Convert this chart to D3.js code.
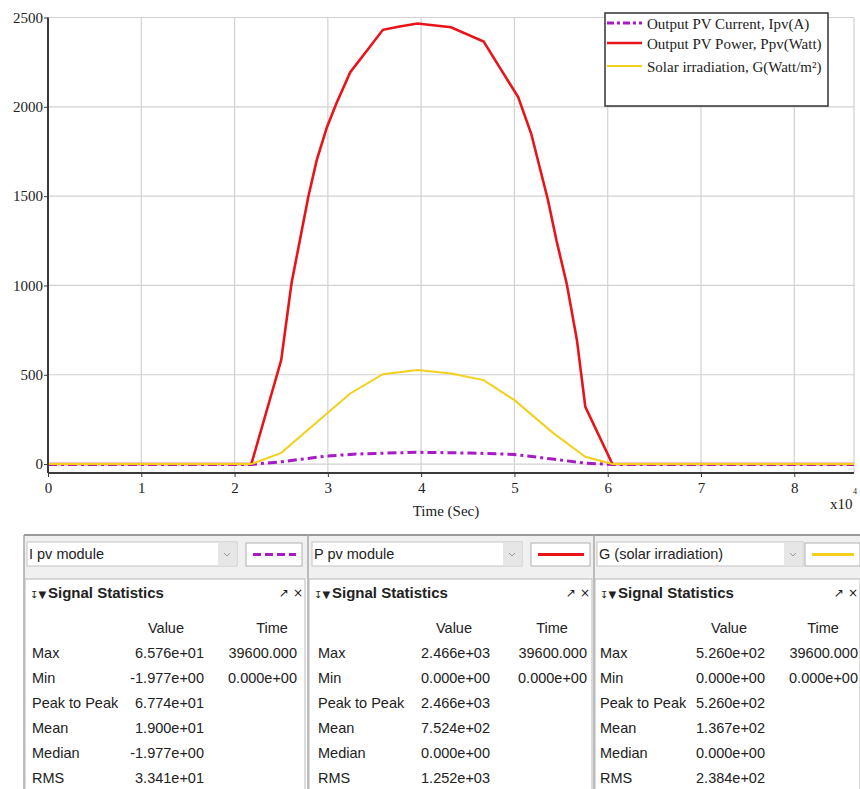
<!DOCTYPE html>
<html>
<head>
<meta charset="utf-8">
<script src="https://cdn.jsdelivr.net/npm/d3@7"></script>
<style>
  body { margin: 0; background: #fff; }
  svg { display: block; }
</style>
</head>
<body>
<svg id="chart" width="860" height="789"></svg>
<script>
// time axis (seconds) and series
const timeP = [0, 21800, 25000, 26100, 27000, 27900, 28800, 29900, 30900, 32400, 34200, 35900, 37700, 39600, 43200, 46700, 48400, 50400, 51800, 53600, 54500, 55600, 56700, 57600, 60500, 86400];
const powerP = [0, 0, 582, 1011, 1253, 1495, 1700, 1886, 2017, 2194, 2315, 2431, 2450, 2466, 2445, 2365, 2222, 2054, 1849, 1477, 1253, 1011, 694, 320, 0, 0];

const timeG = [0, 21800, 25000, 32400, 35900, 39600, 43200, 46700, 50000, 54200, 57600, 60500, 86400];
const irrG = [0, 0, 63, 395, 503, 526, 507, 470, 358, 172, 41, 0, 0];

const timeI = [0, 21800, 25000, 29900, 33000, 35900, 39600, 45200, 50000, 54100, 57600, 60500, 86400];
const currI = [-1.977, -1.977, 13, 45, 56, 61, 65.76, 62, 54, 28, 5, -1.977, -1.977];

const yTicks = [0, 500, 1000, 1500, 2000, 2500];
const xTicks = [0, 10000, 20000, 30000, 40000, 50000, 60000, 70000, 80000];

const legendLabels = ["Output PV Current, Ipv(A)", "Output PV Power, Ppv(Watt)", "Solar irradiation, G(Watt/m²)"];
const colors = { I: "#a61bc6", P: "#e8141a", G: "#f4d01c" };

// stats tables
const panelNames = ["I pv module", "P pv module", "G (solar irradiation)"];
const statRows = ["Max", "Min", "Peak to Peak", "Mean", "Median", "RMS"];
const statValues = [
  ["6.576e+01", "-1.977e+00", "6.774e+01", "1.900e+01", "-1.977e+00", "3.341e+01"],
  ["2.466e+03", "0.000e+00", "2.466e+03", "7.524e+02", "0.000e+00", "1.252e+03"],
  ["5.260e+02", "0.000e+00", "5.260e+02", "1.367e+02", "0.000e+00", "2.384e+02"]
];
const statTimes = ["39600.000", "0.000e+00"];

const svg = d3.select("#chart");
const serif = "'Liberation Serif', 'Times New Roman', serif";
const sans = "'Liberation Sans', Arial, sans-serif";

const x = d3.scaleLinear().domain([0, 86400]).range([48, 854]);
const y = d3.scaleLinear().domain([-50, 2500]).range([473, 17.5]);

// grid
const grid = svg.append("g");
grid.selectAll(".gx").data(xTicks.slice(1)).enter().append("line")
  .attr("x1", d => x(d)).attr("x2", d => x(d))
  .attr("y1", y(2500)).attr("y2", y(-50))
  .attr("stroke", "#d2d2d2").attr("stroke-width", 1.2);
grid.selectAll(".gy").data(yTicks).enter().append("line")
  .attr("x1", x(0)).attr("x2", x(86400))
  .attr("y1", d => y(d)).attr("y2", d => y(d))
  .attr("stroke", "#d2d2d2").attr("stroke-width", 1.2);
grid.append("line")
  .attr("x1", x(86400)).attr("x2", x(86400))
  .attr("y1", y(2500)).attr("y2", y(-50))
  .attr("stroke", "#c8c8c8");

// lines
function series(ts, vs) {
  return ts.map((t, i) => [t, vs[i]]);
}
const line = d3.line().x(d => x(d[0])).y(d => y(d[1]));

svg.append("path").datum(series(timeI, currI))
  .attr("d", line).attr("fill", "none")
  .attr("stroke", colors.I).attr("stroke-width", 3)
  .attr("stroke-dasharray", "9,4,3,4");
svg.append("path").datum(series(timeP, powerP))
  .attr("d", line).attr("fill", "none")
  .attr("stroke", colors.P).attr("stroke-width", 2.6);
svg.append("path").datum(series(timeG, irrG))
  .attr("d", line).attr("fill", "none")
  .attr("stroke", colors.G).attr("stroke-width", 2);

// axes
const yAxis = svg.append("g").attr("transform", "translate(" + x(0) + ",0)")
  .call(d3.axisLeft(y).tickValues(yTicks).tickSize(4).tickFormat(d3.format("d")));
const xAxis = svg.append("g").attr("transform", "translate(0," + y(-50) + ")")
  .call(d3.axisBottom(x).tickValues(xTicks).tickSize(4).tickFormat(d => d / 10000));
[yAxis, xAxis].forEach(a => {
  a.select(".domain").attr("stroke", "#3a3a3a").attr("stroke-width", 2);
  a.selectAll(".tick line").attr("stroke", "#3a3a3a");
  a.selectAll("text").attr("font-family", serif).attr("font-size", 15).attr("fill", "#222");
});
yAxis.select(".domain").attr("d", "M0," + y(2500) + "V" + y(-50));
xAxis.select(".domain").attr("d", "M" + x(0) + ",0H" + x(86400));
yAxis.selectAll("text").attr("x", -5);
xAxis.selectAll("text").attr("y", 9);

svg.append("text").attr("x", 446).attr("y", 516)
  .attr("text-anchor", "middle").attr("font-family", serif).attr("font-size", 15)
  .attr("fill", "#222").text("Time (Sec)");
svg.append("text").attr("x", 830).attr("y", 509)
  .attr("font-family", serif).attr("font-size", 15).attr("fill", "#222").text("x10");
svg.append("text").attr("x", 853).attr("y", 494)
  .attr("font-family", serif).attr("font-size", 8).attr("fill", "#222").text("4");

// legend
const lg = svg.append("g");
lg.append("rect").attr("x", 605).attr("y", 13).attr("width", 223).attr("height", 93)
  .attr("fill", "#fff").attr("stroke", "#333").attr("stroke-width", 1.5);
const legendY = [23, 43, 66];
const legendStyle = [
  { c: colors.I, w: 3, dash: "7,3,3,3" },
  { c: colors.P, w: 2.6, dash: null },
  { c: colors.G, w: 2, dash: null }
];
legendLabels.forEach((lab, i) => {
  lg.append("line").attr("x1", 607).attr("x2", 642)
    .attr("y1", legendY[i]).attr("y2", legendY[i])
    .attr("stroke", legendStyle[i].c).attr("stroke-width", legendStyle[i].w)
    .attr("stroke-dasharray", legendStyle[i].dash);
  lg.append("text").attr("x", 647).attr("y", legendY[i] + 6)
    .attr("font-family", serif).attr("font-size", 15).attr("fill", "#222").text(lab);
});

// bottom stats panels
const panels = svg.append("g").attr("font-family", sans).attr("fill", "#222");
panels.append("rect").attr("x", 24).attr("y", 535).attr("width", 836).attr("height", 44)
  .attr("fill", "#f0f0f0");
panels.append("line").attr("x1", 24).attr("x2", 860).attr("y1", 535).attr("y2", 535)
  .attr("stroke", "#9a9a9a").attr("stroke-width", 2);

const pDefs = [
  { x0: 24, ddx: 27, ddw: 210, swx: 246, sww: 56, lab: 32, valR: 204, valC: 166, timR: 297, timC: 272, right: 305 },
  { x0: 308, ddx: 312, ddw: 210, swx: 531, sww: 59, lab: 318, valR: 490, valC: 454, timR: 587, timC: 552, right: 592 },
  { x0: 594, ddx: 597, ddw: 206, swx: 805, sww: 55, lab: 600, valR: 765, valC: 729, timR: 858, timC: 823, right: 860 }
];
const swatchStyle = [
  { c: colors.I, w: 3, dash: "8,4" },
  { c: colors.P, w: 3, dash: null },
  { c: colors.G, w: 3, dash: null }
];

pDefs.forEach((p, i) => {
  const g = panels.append("g");
  // separators
  g.append("line").attr("x1", p.x0).attr("x2", p.x0).attr("y1", 535).attr("y2", 789)
    .attr("stroke", "#a8a8a8").attr("stroke-width", 1.5);
  // dropdown
  g.append("rect").attr("x", p.ddx).attr("y", 542).attr("width", p.ddw).attr("height", 24)
    .attr("fill", "#fff").attr("stroke", "#c4c4c4");
  g.append("rect").attr("x", p.ddx + p.ddw - 19).attr("y", 542.5).attr("width", 18.5).attr("height", 23)
    .attr("fill", "#e6e6e6");
  const cx = p.ddx + p.ddw - 10;
  g.append("path").attr("d", "M" + (cx - 3) + ",553l3,3l3,-3")
    .attr("fill", "none").attr("stroke", "#999").attr("stroke-width", 1);
  g.append("text").attr("x", p.ddx + 2).attr("y", 559).attr("font-size", 14.5).text(panelNames[i]);
  // swatch
  g.append("rect").attr("x", p.swx).attr("y", 543).attr("width", p.sww).attr("height", 23)
    .attr("fill", "#fff").attr("stroke", "#b0b0b0");
  g.append("line").attr("x1", p.swx + 7).attr("x2", p.swx + p.sww - 6)
    .attr("y1", 554.5).attr("y2", 554.5)
    .attr("stroke", swatchStyle[i].c).attr("stroke-width", swatchStyle[i].w)
    .attr("stroke-dasharray", swatchStyle[i].dash);
  // stats box
  g.append("rect").attr("x", p.x0 + 1).attr("y", 579).attr("width", p.right - p.x0 - 1).attr("height", 212)
    .attr("fill", "#fff").attr("stroke", "#b8b8b8");
  g.append("text").attr("x", p.x0 + 6).attr("y", 598).attr("font-size", 10).attr("font-family", "DejaVu Sans")
    .text("↧▼");
  g.append("text").attr("x", p.x0 + 24).attr("y", 598).attr("font-size", 15).attr("font-weight", "bold")
    .text("Signal Statistics");
  g.append("text").attr("x", p.right - 2).attr("y", 597).attr("font-size", 12).attr("text-anchor", "end")
    .attr("font-family", "DejaVu Sans").text("↗ ×");
  // header
  g.append("text").attr("x", p.valC).attr("y", 633).attr("font-size", 14.5).attr("text-anchor", "middle").text("Value");
  g.append("text").attr("x", p.timC).attr("y", 633).attr("font-size", 14.5).attr("text-anchor", "middle").text("Time");
  statRows.forEach((r, j) => {
    const yy = 658 + j * 25;
    g.append("text").attr("x", p.lab).attr("y", yy).attr("font-size", 14.5).text(r);
    g.append("text").attr("x", p.valR).attr("y", yy).attr("font-size", 14.5)
      .attr("text-anchor", "end").text(statValues[i][j]);
    if (j < statTimes.length) {
      g.append("text").attr("x", p.timR).attr("y", yy).attr("font-size", 14.5)
        .attr("text-anchor", "end").text(statTimes[j]);
    }
  });
});
</script>
</body>
</html>
